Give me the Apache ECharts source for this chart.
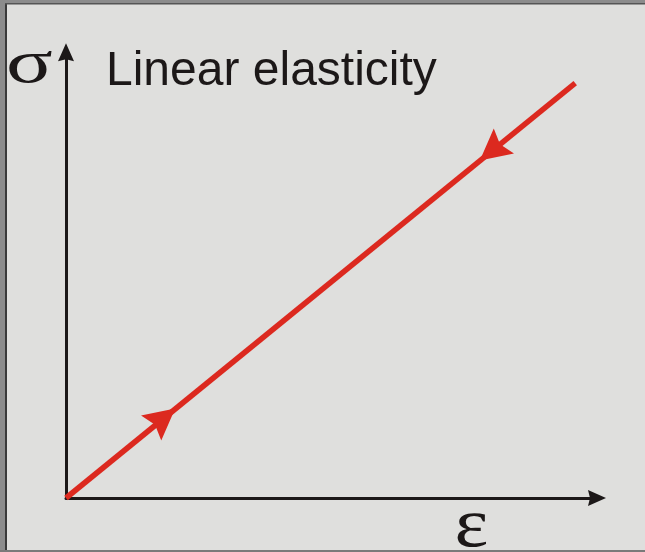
<!DOCTYPE html>
<html>
<head>
<meta charset="utf-8">
<title>Linear elasticity</title>
<script src="https://cdn.jsdelivr.net/npm/echarts@6/dist/echarts.min.js"></script>
<style>
  html, body { margin: 0; padding: 0; background: #dfdfdd; }
  #chart { width: 645px; height: 552px; }
</style>
</head>
<body>
<div id="chart"></div>
<script>
// Stress–strain path of a linear elastic material (arbitrary units)
const strain = [0, 9.59];
const stress = [0, 9.31];

// Direction markers: loading (upwards) and unloading (downwards)
const loadingMarker = [[1.83, 1.79]];
const unloadingMarker = [[8.02, 7.79]];

const titleText = 'Linear elasticity';
const stressLabel = 'σ';
const strainLabel = 'ε';

const lineColor = '#dc291f';
const inkColor = '#1c1818';
const axisArrow = 'path://M0,0 L8,18 L0,16 L-8,18 Z';
const pathArrow = 'path://M0,0 L16,31 L0,26 L-16,31 Z';

const chart = echarts.init(document.getElementById('chart'), null, { renderer: 'canvas' });

const axisCommon = {
  type: 'value',
  min: 0,
  max: 10,
  splitLine: { show: false },
  axisTick: { show: false },
  axisLabel: { show: false },
  axisLine: {
    show: true,
    symbol: ['none', axisArrow],
    symbolSize: [16, 19],
    lineStyle: { color: inkColor, width: 3 }
  }
};

chart.setOption({
  backgroundColor: '#dfdfdd',
  animation: false,
  grid: { left: 66, top: 52.3, right: 48, bottom: 54 },
  xAxis: Object.assign({}, axisCommon),
  yAxis: Object.assign({}, axisCommon),
  graphic: [
    // frame bands
    { type: 'rect', shape: { x: 0, y: 0, width: 5, height: 552 }, style: { fill: '#8c8c8c' }, z: 100 },
    { type: 'rect', shape: { x: 5, y: 3, width: 2, height: 549 }, style: { fill: '#3a3a3a' }, z: 100 },
    { type: 'rect', shape: { x: 0, y: 0, width: 645, height: 3 }, style: { fill: '#8c8c8c' }, z: 100 },
    { type: 'rect', shape: { x: 5, y: 3, width: 640, height: 1.5 }, style: { fill: '#555555' }, z: 100 },
    { type: 'rect', shape: { x: 0, y: 550, width: 645, height: 2 }, style: { fill: '#7a7a7a' }, z: 100 },
    // labels
    {
      type: 'text', x: 106, y: 72,
      style: { text: titleText, fill: inkColor, font: '48px "Liberation Sans", Arial, sans-serif', align: 'left', verticalAlign: 'middle' }
    },
    {
      type: 'text', x: 6, y: 66, scaleX: 1.4,
      style: { text: stressLabel, fill: inkColor, font: '62px "Liberation Serif", "Times New Roman", serif', align: 'left', verticalAlign: 'middle' }
    },
    {
      type: 'text', x: 471.5, y: 528, scaleX: 1.15,
      style: { text: strainLabel, fill: inkColor, font: '70px "Liberation Serif", "Times New Roman", serif', align: 'center', verticalAlign: 'middle' }
    }
  ],
  series: [
    {
      name: 'elastic path',
      type: 'line',
      data: strain.map((e, i) => [e, stress[i]]),
      symbol: 'none',
      lineStyle: { color: lineColor, width: 5.5, cap: 'butt' },
      z: 5
    },
    {
      name: 'loading',
      type: 'scatter',
      data: loadingMarker,
      symbol: pathArrow,
      symbolSize: [32, 31],
      itemStyle: { color: lineColor, opacity: 1 },
      z: 6
    },
    {
      name: 'unloading',
      type: 'scatter',
      data: unloadingMarker,
      symbol: pathArrow,
      symbolSize: [32, 31],
      itemStyle: { color: lineColor, opacity: 1 },
      z: 6
    }
  ]
});

// Orient the direction markers along the drawn path
const p0 = chart.convertToPixel({ gridIndex: 0 }, [strain[0], stress[0]]);
const p1 = chart.convertToPixel({ gridIndex: 0 }, [strain[1], stress[1]]);
const angle = Math.atan2(-(p1[1] - p0[1]), p1[0] - p0[0]) * 180 / Math.PI;
chart.setOption({
  series: [
    {},
    { symbolRotate: angle - 90 },
    { symbolRotate: angle + 90 }
  ]
});
</script>
</body>
</html>
